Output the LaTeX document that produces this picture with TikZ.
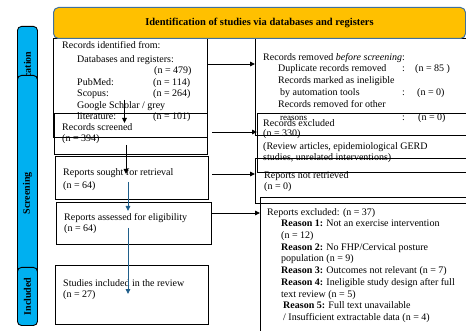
\documentclass[tikz,border=0pt]{standalone}
\usepackage{fontspec}
\setmainfont{Liberation Serif}
\usetikzlibrary{arrows.meta}
\definecolor{headgold}{RGB}{255,192,0}
\definecolor{headedge}{RGB}{65,113,156}
\definecolor{sidecyan}{RGB}{0,176,240}
\definecolor{flowblue}{RGB}{31,94,138}

\begin{document}
\begin{tikzpicture}[x=1pt, y=-1pt, font=\fontsize{10}{11.5}\selectfont,
  box/.style={rectangle, draw, line width=1.1pt, inner sep=0pt, anchor=north west},
  txt/.style={anchor=base west, inner sep=0pt, align=left},
  sidebar/.style={rectangle, draw, rounded corners=4pt, fill=sidecyan, line width=0.9pt,
                  minimum width=20pt, inner sep=0pt, anchor=north west},
  sidelabel/.style={rotate=90, font=\fontsize{10}{12}\selectfont\bfseries},
  flow/.style={-{Triangle[length=5pt,width=4.5pt]}, line width=0.9pt},
  blueflow/.style={flow, draw=flowblue, color=flowblue},
]
  \useasboundingbox (0,0) rectangle (466,331);

  % phase bars on the left
  \node[sidebar, minimum height=108pt] (idbar) at (17,26) {};
  \node[sidelabel] (idlab) at (idbar.center) {Identification};
  \node[sidebar, minimum height=236pt] (scbar) at (17,75) {};
  \node[sidelabel] (sclab) at (scbar.center) {Screening};
  \node[sidebar, minimum height=58pt] (inbar) at (17,267) {};
  \node[sidelabel] (inlab) at (inbar.center) {Included};

  % left column
  \node[box, line width=1.4pt, minimum width=154pt, minimum height=99pt] (ident) at (53,38) {};
  \node[box, minimum width=153pt, minimum height=41pt] (screen) at (54,113) {};
  \node[box, minimum width=153pt, minimum height=43pt] (sought) at (55,156) {};
  \node[box, minimum width=155pt, minimum height=42pt] (assess) at (56,202) {};
  \node[box, minimum width=153pt, minimum height=59pt] (incl) at (55,265) {};

  % right column (runs off the page)
  \node[box, minimum width=230pt, minimum height=97pt] (removed) at (255,38) {};
  \node[box, minimum width=230pt, minimum height=59pt] (excl) at (257,113) {};
  \node[box, minimum width=230pt, minimum height=45pt] (notret) at (255,158) {};
  \node[box, minimum width=230pt, minimum height=150pt] (rexcl) at (260,197) {};

  \node[rectangle, draw=headedge, fill=headgold, rounded corners=5pt, line width=1pt,
        minimum width=412pt, minimum height=31pt, anchor=north west,
        font=\fontsize{10.5}{12}\selectfont\bfseries] (head) at (53,7)
    {Identification of studies via databases and registers};

  % texts, placed by the baseline of their last line
  \node[txt] (identtxt) at (62,120) {Records identified from:\\[2.5pt]
    \hspace*{15pt}Databases and registers:\\
    \hspace*{92pt}(n = 479)\\
    \hspace*{15pt}\makebox[76pt][l]{PubMed:}(n = 114)\\
    \hspace*{15pt}\makebox[76pt][l]{Scopus:}(n = 264)\\
    \hspace*{15pt}Google Scholar / grey\\
    \hspace*{15pt}\makebox[76pt][l]{literature:}(n = 101)};
  \node[txt] (screentxt) at (62,142) {Records screened\\(n = 394)};
  \node[txt] (soughttxt) at (63,188.5) {Reports sought for retrieval\\[1.5pt](n = 64)};
  \node[txt] (assesstxt) at (64,232) {Reports assessed for eligibility\\(n = 64)};
  \node[txt] (incltxt) at (63,298) {Studies included in the review\\(n = 27)};

  \node[txt] (removedtxt) at (263,121) {Records removed \textit{before screening}:\\
    \hspace*{15pt}\makebox[124pt][l]{Duplicate records removed}\makebox[13pt][l]{:}(n = 85 )\\
    \hspace*{15pt}Records marked as ineligible\\[1pt]
    \hspace*{17pt}\makebox[122pt][l]{by automation tools}\makebox[15pt][l]{:}(n = 0)\\
    \hspace*{15pt}Records removed for other\\[2pt]
    \hspace*{17pt}\makebox[122pt][l]{\fontsize{9}{10}\selectfont reasons}\makebox[16pt][l]{:}(n = 0)};
  \node[txt] (excltxt) at (263,160.5) {Records excluded\\[-1.5pt](n = 330)\\[1.5pt]
    (Review articles, epidemiological GERD\\[-1pt]studies, unrelated interventions)};
  \node[txt] (notrettxt) at (264,189.5) {Reports not retrieved\\[-1pt](n = 0)};
  \node[txt, font=\fontsize{10}{11.75}\selectfont] (rexcltxt) at (267,320.5)
    {Reports excluded: (n = 37)\\[-0.75pt]
    \hspace*{14pt}\textbf{Reason 1:} Not an exercise intervention\\
    \hspace*{14pt}(n = 12)\\
    \hspace*{14pt}\textbf{Reason 2:} No FHP/Cervical posture\\
    \hspace*{14pt}population (n = 9)\\
    \hspace*{14pt}\textbf{Reason 3:} Outcomes not relevant (n = 7)\\
    \hspace*{14pt}\textbf{Reason 4:} Ineligible study design after full\\
    \hspace*{14pt}text review (n = 5)\\
    \hspace*{16pt}\textbf{Reason 5:} Full text unavailable\\
    \hspace*{16pt}/ Insufficient extractable data (n = 4)};

  % arrow ends
  \coordinate (v1s) at (124.5,100);  \coordinate (v1e) at (124.5,123);
  \coordinate (v2s) at (126,145);    \coordinate (v2e) at (126,174);
  \coordinate (v3s) at (128,182);    \coordinate (v3e) at (128,211);
  \coordinate (v4s) at (128,228);    \coordinate (v4e) at (128,294);
  \coordinate (h1) at (0,64);
  \coordinate (h2s) at (212,132);    \coordinate (h3s) at (212,174);
  \coordinate (h4s) at (212,213);

  \draw[flow] (v1s) -- (v1e);
  \draw[flow] (v2s) -- (v2e);
  \draw[blueflow] (v3s) -- (v3e);
  \draw[blueflow] (v4s) -- (v4e);
  \draw[flow] (ident.east |- h1) -- (removed.west |- h1);
  \draw[flow] (h2s) -- (excl.west |- h2s);
  \draw[flow] (h3s) -- (notret.west |- h3s);
  \draw[flow] (h4s) -- (rexcl.west |- h4s);
\end{tikzpicture}
\end{document}
